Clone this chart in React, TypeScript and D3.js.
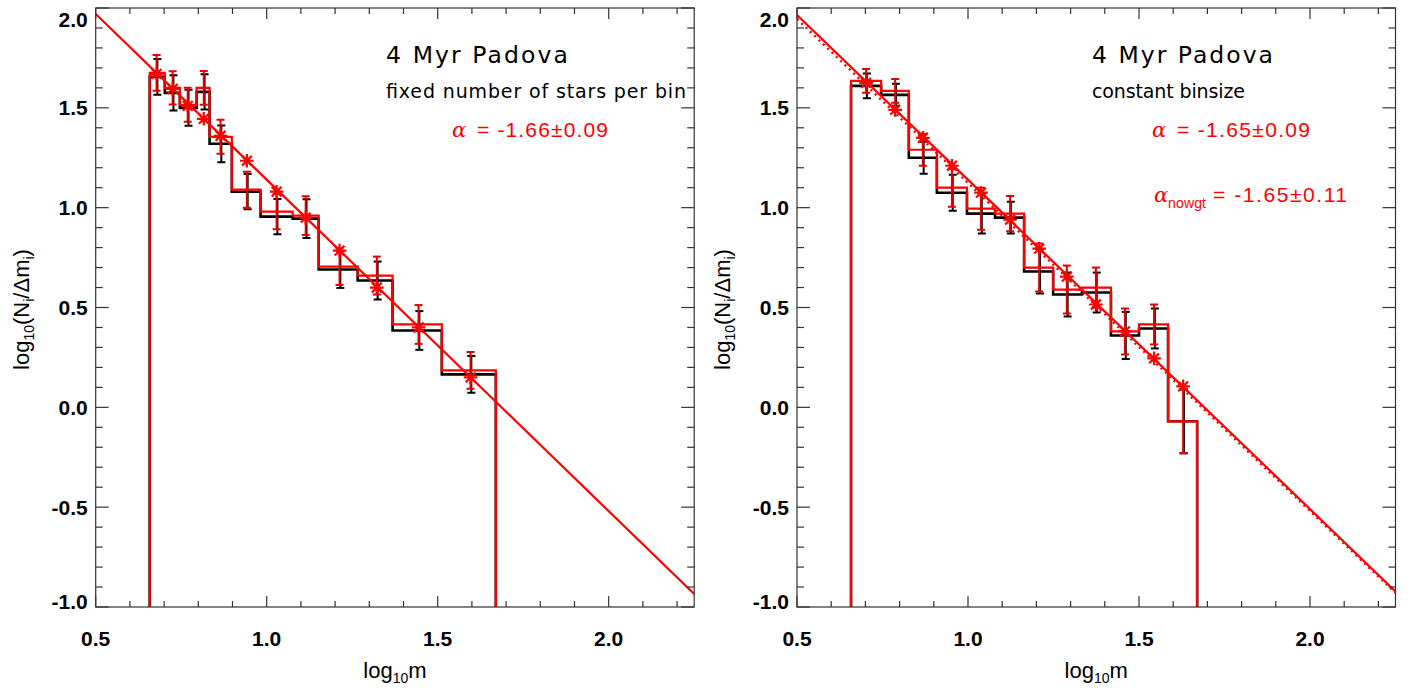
import React from 'react';
import * as d3 from 'd3';

const WIDTH = 1420;
const HEIGHT = 691;

const xDomain: [number, number] = [0.5, 2.25];
const yDomain: [number, number] = [-1.0, 2.0];
const xTickValues = [0.5, 1.0, 1.5, 2.0];
const xTickLabels = ['0.5', '1.0', '1.5', '2.0'];
const yTickValues = [-1.0, -0.5, 0.0, 0.5, 1.0, 1.5, 2.0];
const yTickLabels = ['-1.0', '-0.5', '0.0', '0.5', '1.0', '1.5', '2.0'];

// Left panel: fixed number of stars per bin
const leftEdges = [0.658, 0.702, 0.746, 0.795, 0.833, 0.898, 0.982, 1.076, 1.152, 1.266, 1.368, 1.512, 1.670];
const leftRed = [1.675, 1.60, 1.515, 1.60, 1.355, 1.09, 0.98, 0.96, 0.705, 0.66, 0.415, 0.185];
const leftBlack = [1.655, 1.575, 1.50, 1.58, 1.32, 1.08, 0.955, 0.945, 0.69, 0.635, 0.385, 0.165];
const leftRedErr = [0.09, 0.083, 0.085, 0.085, 0.085, 0.09, 0.088, 0.097, 0.092, 0.095, 0.097, 0.092];
const leftBlackErr = [0.09, 0.088, 0.09, 0.088, 0.092, 0.088, 0.088, 0.097, 0.092, 0.095, 0.097, 0.092];
const leftStarX = [0.678, 0.725, 0.769, 0.816, 0.865, 0.942, 1.029, 1.114, 1.213, 1.322, 1.444, 1.596];
const leftStarY = [1.67, 1.595, 1.51, 1.445, 1.36, 1.235, 1.08, 0.95, 0.785, 0.60, 0.40, 0.15];

// Right panel: constant binsize
const rightEdges = [0.658, 0.746, 0.827, 0.909, 0.997, 1.079, 1.164, 1.249, 1.333, 1.418, 1.500, 1.585, 1.670];
const rightRed = [1.635, 1.585, 1.29, 1.10, 0.995, 0.97, 0.70, 0.59, 0.60, 0.38, 0.415, -0.07];
const rightBlack = [1.61, 1.565, 1.25, 1.075, 0.97, 0.95, 0.68, 0.565, 0.575, 0.36, 0.395, -0.07];
const rightRedErr = [0.06, 0.06, 0.08, 0.095, 0.105, 0.088, 0.12, 0.12, 0.10, 0.115, 0.10, 0.16];
const rightBlackErr = [0.062, 0.055, 0.08, 0.09, 0.10, 0.08, 0.11, 0.11, 0.10, 0.118, 0.10, 0.16];
const rightStarX = [0.702, 0.787, 0.868, 0.953, 1.038, 1.123, 1.208, 1.289, 1.374, 1.459, 1.544, 1.629];
const rightStarY = [1.625, 1.49, 1.35, 1.21, 1.075, 0.94, 0.795, 0.655, 0.515, 0.38, 0.245, 0.105];

// Fit lines
const fitX = [0.5, 2.25];
const leftFitY = [1.97, -0.935];
const rightFitY = [1.965, -0.9225];
const rightNowgtY = [1.945, -0.93];

const titles = ['4 Myr Padova', '4 Myr Padova'];
const subtitles = ['fixed number of stars per bin', 'constant binsize'];
const alphaTexts = ['= -1.66±0.09', '= -1.65±0.09'];
const nowgtText = '= -1.65±0.11';

const RED = '#ff0000';
const SANS = "'Liberation Sans', Arial, Helvetica, sans-serif";
const LUCIDA = "'DejaVu Sans', Verdana, sans-serif";

type PanelProps = {
  id: string;
  x0: number;
  x1: number;
  y0: number;
  y1: number;
  edges: number[];
  red: number[];
  black: number[];
  redErr: number[];
  blackErr: number[];
  starX: number[];
  starY: number[];
  fitY: number[];
  dottedY?: number[];
  title: string;
  subtitle: string;
  alpha: string;
  textX: number;
  alphaX: number;
  titleLen: number;
  subLen: number;
  alphaLen: number;
  nowgt?: boolean;
};

function Panel(p: PanelProps) {
  const x = d3.scaleLinear().domain(xDomain).range([p.x0, p.x1]);
  const y = d3.scaleLinear().domain(yDomain).range([p.y1, p.y0]);
  const line = d3.line<[number, number]>().x((d) => x(d[0])).y((d) => y(d[1]));

  const histPts = (vals: number[]): [number, number][] => {
    const pts: [number, number][] = [[p.edges[0], yDomain[0]]];
    vals.forEach((v, i) => {
      pts.push([p.edges[i], v]);
      pts.push([p.edges[i + 1], v]);
    });
    pts.push([p.edges[p.edges.length - 1], yDomain[0]]);
    return pts;
  };

  const xMinor = d3.range(5, 23).map((i) => i / 10);
  const yMinor = d3.range(-10, 21).map((i) => i / 10);
  const isMajor = (v: number) => Math.abs(v * 2 - Math.round(v * 2)) < 1e-6;

  const errBars = (vals: number[], errs: number[], color: string, dx: number, w: number) =>
    p.starX.map((sx, i) => {
      const cx = x(sx) + dx;
      const top = y(vals[i] + errs[i]);
      const bot = y(vals[i] - errs[i]);
      return (
        <g key={i} stroke={color} strokeWidth={w}>
          <line x1={cx} x2={cx} y1={top} y2={bot} />
          <line x1={cx - 4} x2={cx + 4} y1={top} y2={top} />
          <line x1={cx - 4} x2={cx + 4} y1={bot} y2={bot} />
        </g>
      );
    });

  const r = 6.8;
  const rd = r * 0.72;
  const clipId = `clip-${p.id}`;
  const midY = (p.y0 + p.y1) / 2;
  const midX = (p.x0 + p.x1) / 2;

  return (
    <g>
      <defs>
        <clipPath id={clipId}>
          <rect x={p.x0} y={p.y0} width={p.x1 - p.x0} height={p.y1 - p.y0} />
        </clipPath>
      </defs>

      <g clipPath={`url(#${clipId})`}>
        <path d={line(histPts(p.black)) || ''} fill="none" stroke="#000" strokeWidth={2.6} />
        {errBars(p.black, p.blackErr, '#000', 0.8, 2)}
        <path d={line(histPts(p.red)) || ''} fill="none" stroke={RED} strokeWidth={2.2} />
        {errBars(p.red, p.redErr, '#e00000', 0, 2)}
        {p.starX.map((sx, i) => {
          const cx = x(sx);
          const cy = y(p.starY[i]);
          return (
            <path
              key={i}
              d={`M${cx - r},${cy}L${cx + r},${cy}M${cx},${cy - r}L${cx},${cy + r}M${cx - rd},${cy - rd}L${cx + rd},${cy + rd}M${cx - rd},${cy + rd}L${cx + rd},${cy - rd}`}
              stroke={RED}
              strokeWidth={2.2}
              fill="none"
            />
          );
        })}
        <path
          d={line(fitX.map((fx, i) => [fx, p.fitY[i]] as [number, number])) || ''}
          stroke={RED}
          strokeWidth={2.2}
          fill="none"
        />
        {p.dottedY && (
          <path
            d={line(fitX.map((fx, i) => [fx, p.dottedY![i]] as [number, number])) || ''}
            stroke={RED}
            strokeWidth={2.4}
            strokeDasharray="2,4"
            fill="none"
          />
        )}
      </g>

      {/* frame */}
      <rect x={p.x0} y={p.y0} width={p.x1 - p.x0} height={p.y1 - p.y0} fill="none" stroke="#333" strokeWidth={1.2} />

      {/* x ticks */}
      {xMinor.map((v, i) => {
        const len = isMajor(v) ? 11 : 6;
        const xx = x(v);
        return (
          <g key={`xt${i}`} stroke="#333" strokeWidth={1.2}>
            <line x1={xx} x2={xx} y1={p.y1} y2={p.y1 - len} />
            <line x1={xx} x2={xx} y1={p.y0} y2={p.y0 + len} />
          </g>
        );
      })}
      {/* y ticks */}
      {yMinor.map((v, i) => {
        const len = isMajor(v) ? 13 : 7;
        const yy = y(v);
        return (
          <g key={`yt${i}`} stroke="#333" strokeWidth={1.2}>
            <line x1={p.x0} x2={p.x0 + len} y1={yy} y2={yy} />
            <line x1={p.x1} x2={p.x1 - len} y1={yy} y2={yy} />
          </g>
        );
      })}

      {/* tick labels */}
      {xTickValues.map((v, i) => (
        <text key={`xl${i}`} x={x(v)} y={646} textAnchor="middle" fontFamily={SANS} fontWeight="bold" fontSize={21} fill="#000">
          {xTickLabels[i]}
        </text>
      ))}
      {yTickValues.map((v, i) => {
        const cy = Math.min(Math.max(y(v), p.y0 + 11.5), p.y1 - 5.5);
        return (
          <text key={`yl${i}`} x={p.x0 - 8} y={cy + 7.5} textAnchor="end" fontFamily={SANS} fontWeight="bold" fontSize={21} fill="#000">
            {yTickLabels[i]}
          </text>
        );
      })}

      {/* axis titles */}
      <text x={midX} y={678} textAnchor="middle" fontFamily={SANS} fontSize={22} fill="#000">
        log<tspan fontSize={14} dy={5}>10</tspan><tspan dy={-5}>m</tspan>
      </text>
      <text
        transform={`translate(${p.x0 - 67},${midY + 2}) rotate(-90)`}
        textAnchor="middle"
        fontFamily={SANS}
        fontSize={22}
        fill="#000"
      >
        log<tspan fontSize={14} dy={5}>10</tspan>
        <tspan dy={-5}>(N</tspan>
        <tspan fontSize={14} dy={5}>i</tspan>
        <tspan dy={-5}>/Δm</tspan>
        <tspan fontSize={14} dy={5}>i</tspan>
        <tspan dy={-5}>)</tspan>
      </text>

      {/* annotations */}
      <text x={p.textX} y={63} fontFamily={LUCIDA} fontSize={23.5} textLength={p.titleLen} lengthAdjust="spacing" fill="#000">
        {p.title}
      </text>
      <text x={p.textX} y={98} fontFamily={LUCIDA} fontSize={19} textLength={p.subLen} lengthAdjust="spacing" fill="#000">
        {p.subtitle}
      </text>
      <text x={p.alphaX} y={137} fontFamily="'DejaVu Serif', serif" fontStyle="italic" fontSize={21} fill={RED}>
        α
      </text>
      <text x={p.alphaX + 25} y={137} fontFamily={SANS} fontSize={21} textLength={p.alphaLen} lengthAdjust="spacing" fill={RED}>
        {p.alpha}
      </text>
      {p.nowgt && (
        <g fill={RED}>
          <text x={p.alphaX + 2} y={202} fontFamily="'DejaVu Serif', serif" fontStyle="italic" fontSize={21}>
            α
          </text>
          <text x={p.alphaX + 16} y={208} fontFamily={SANS} fontSize={14} textLength={38} lengthAdjust="spacing">
            nowgt
          </text>
          <text x={p.alphaX + 61} y={202} fontFamily={SANS} fontSize={21} textLength={134} lengthAdjust="spacing">
            {nowgtText}
          </text>
        </g>
      )}
    </g>
  );
}

export default function App() {
  return (
    <svg
      width={WIDTH}
      height={HEIGHT}
      viewBox={`0 0 ${WIDTH} ${HEIGHT}`}
      style={{ position: 'absolute', left: 0, top: 0, background: '#fff' }}
    >
      <rect x={0} y={0} width={WIDTH} height={HEIGHT} fill="#fff" />
      <Panel
        id="left"
        x0={95.7}
        x1={694.2}
        y0={8}
        y1={607}
        edges={leftEdges}
        red={leftRed}
        black={leftBlack}
        redErr={leftRedErr}
        blackErr={leftBlackErr}
        starX={leftStarX}
        starY={leftStarY}
        fitY={leftFitY}
        title={titles[0]}
        subtitle={subtitles[0]}
        alpha={alphaTexts[0]}
        textX={386}
        alphaX={452}
        titleLen={182}
        subLen={300}
        alphaLen={131}
      />
      <Panel
        id="right"
        x0={797}
        x1={1395.5}
        y0={8}
        y1={607}
        edges={rightEdges}
        red={rightRed}
        black={rightBlack}
        redErr={rightRedErr}
        blackErr={rightBlackErr}
        starX={rightStarX}
        starY={rightStarY}
        fitY={rightFitY}
        dottedY={rightNowgtY}
        title={titles[1]}
        subtitle={subtitles[1]}
        alpha={alphaTexts[1]}
        textX={1092}
        alphaX={1152}
        titleLen={181}
        subLen={153}
        alphaLen={133}
        nowgt
      />
    </svg>
  );
}
